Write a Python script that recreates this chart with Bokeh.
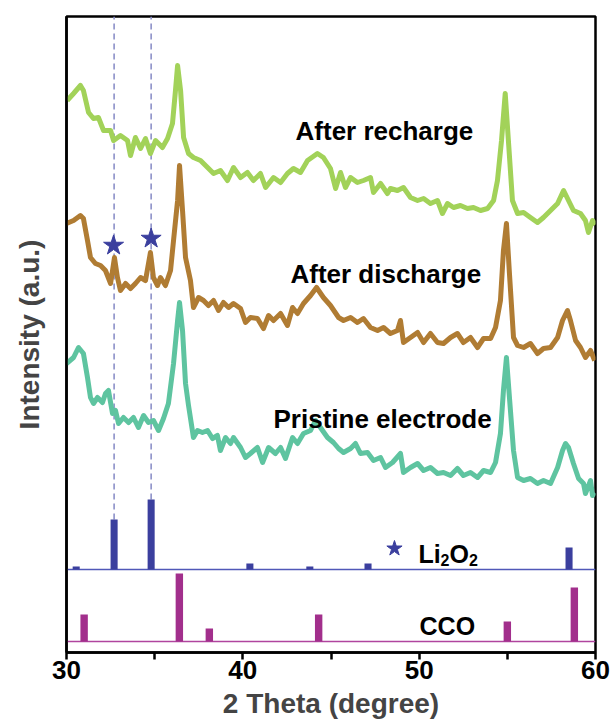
from bokeh.plotting import figure
from bokeh.models import Range1d, FixedTicker
from bokeh.core.properties import value
from bokeh.embed import file_html
from bokeh.resources import INLINE

# ---- data (2 theta in degree, intensity in a.u., offsets included) ----
recharge_2theta = [30.04, 30.40, 30.79, 30.96, 31.25, 31.53, 31.81, 32.10, 32.50, 32.67, 33.06, 33.46, 33.63, 33.91,
                   34.20, 34.48, 34.76, 35.05, 35.44, 35.73, 36.01, 36.18, 36.30, 36.47, 36.64, 36.92, 37.20, 37.60,
                   38.00, 38.34, 38.73, 39.13, 39.47, 39.87, 40.26, 40.60, 41.00, 41.29, 41.74, 42.14, 42.53, 42.87,
                   43.27, 43.67, 44.23, 44.57, 44.97, 45.26, 45.54, 45.82, 46.11, 46.50, 46.84, 47.24, 47.41, 47.81,
                   48.20, 48.37, 48.77, 49.11, 49.51, 49.91, 50.25, 50.64, 51.04, 51.32, 51.61, 51.95, 52.34, 52.74,
                   53.08, 53.48, 53.88, 54.22, 54.44, 54.67, 54.88, 55.06, 55.29, 55.58, 55.92, 56.31, 56.71, 57.05,
                   57.45, 57.85, 58.19, 58.47, 58.75, 59.15, 59.43, 59.60, 59.83, 60.0]
recharge_int = [552, 559, 567, 562, 540, 534, 535, 522, 522, 512, 517, 512, 497, 515,
                504, 514, 499, 512, 505, 514, 529, 562, 587, 562, 515, 499, 495, 492,
                485, 479, 482, 472, 485, 475, 480, 472, 479, 465, 475, 470, 479, 484,
                480, 492, 499, 495, 484, 464, 480, 465, 475, 470, 472, 475, 460, 469,
                459, 464, 462, 465, 455, 452, 454, 449, 452, 439, 449, 445, 447, 444,
                445, 442, 444, 452, 472, 512, 559, 512, 452, 439, 440, 435, 430, 435,
                442, 449, 462, 452, 442, 439, 432, 420, 432, 428]

discharge_2theta = [30.0, 30.40, 30.79, 30.96, 31.19, 31.36, 31.64, 31.93, 32.21, 32.50, 32.72, 32.89, 33.06, 33.35,
                    33.63, 33.91, 34.20, 34.48, 34.76, 34.93, 35.16, 35.33, 35.61, 35.90, 36.07, 36.30, 36.41, 36.58,
                    36.75, 37.03, 37.20, 37.49, 37.77, 38.05, 38.34, 38.62, 38.90, 39.19, 39.47, 39.87, 40.15, 40.43,
                    40.83, 41.17, 41.46, 41.74, 42.14, 42.53, 42.82, 43.10, 43.44, 43.84, 44.18, 44.57, 44.97, 45.43,
                    45.71, 46.11, 46.50, 46.84, 47.24, 47.64, 47.98, 48.37, 48.77, 48.94, 49.11, 49.51, 49.91, 50.25,
                    50.64, 51.04, 51.38, 51.78, 52.17, 52.51, 52.91, 53.31, 53.65, 54.05, 54.33, 54.61, 54.78, 54.95,
                    55.12, 55.35, 55.58, 55.92, 56.31, 56.71, 57.05, 57.45, 57.85, 58.13, 58.41, 58.58, 58.87, 59.15,
                    59.43, 59.72, 59.95]
discharge_int = [429, 432, 437, 434, 412, 395, 389, 387, 382, 369, 395, 375, 362, 369,
                 364, 369, 375, 372, 400, 375, 367, 375, 367, 382, 412, 452, 487, 442,
                 395, 372, 345, 355, 352, 347, 352, 342, 350, 345, 349, 344, 330, 335,
                 334, 324, 337, 332, 339, 327, 345, 339, 349, 357, 365, 355, 347, 335,
                 332, 335, 330, 334, 325, 322, 325, 319, 322, 332, 310, 315, 320, 310,
                 319, 310, 309, 315, 319, 310, 315, 305, 314, 314, 325, 352, 402, 429,
                 379, 315, 307, 305, 309, 299, 304, 305, 315, 332, 342, 332, 312, 305,
                 295, 302, 292]

pristine_2theta = [30.0, 30.40, 30.68, 30.96, 31.19, 31.36, 31.53, 31.76, 32.04, 32.21, 32.38, 32.61, 32.78, 32.95,
                   33.23, 33.52, 33.80, 34.08, 34.37, 34.65, 34.93, 35.22, 35.50, 35.78, 36.07, 36.30, 36.41, 36.58,
                   36.75, 36.92, 37.20, 37.43, 37.71, 38.00, 38.28, 38.56, 38.73, 39.02, 39.30, 39.47, 39.87, 40.15,
                   40.43, 40.83, 41.12, 41.46, 41.85, 42.14, 42.42, 42.82, 43.10, 43.44, 43.84, 44.12, 44.40, 44.80,
                   45.14, 45.43, 45.71, 46.11, 46.39, 46.67, 47.07, 47.41, 47.81, 48.09, 48.49, 48.94, 49.11, 49.51,
                   49.91, 50.25, 50.64, 51.04, 51.38, 51.78, 52.17, 52.51, 52.91, 53.31, 53.65, 54.05, 54.33, 54.61,
                   54.78, 54.95, 55.12, 55.35, 55.58, 55.92, 56.31, 56.71, 57.05, 57.45, 57.85, 58.13, 58.30, 58.47,
                   58.75, 59.04, 59.32, 59.43, 59.72, 59.83, 59.95]
pristine_int = [289, 295, 305, 299, 275, 255, 249, 255, 250, 259, 262, 239, 242, 229,
                235, 230, 235, 225, 237, 230, 232, 222, 234, 249, 289, 332, 350, 322,
                269, 247, 215, 222, 220, 222, 214, 217, 202, 215, 209, 215, 205, 195,
                199, 205, 190, 205, 199, 205, 194, 215, 209, 219, 222, 232, 225, 215,
                210, 204, 200, 204, 209, 199, 200, 192, 195, 185, 190, 199, 180, 185,
                189, 182, 185, 179, 180, 177, 184, 177, 180, 175, 182, 180, 190, 219,
                262, 295, 255, 202, 175, 172, 174, 169, 172, 169, 185, 202, 209, 205,
                189, 174, 169, 159, 172, 157, 160]

li2o2_2theta = [30.55, 32.7, 34.8, 40.4, 43.8, 47.1, 58.5]
li2o2_int = [3, 50, 70, 6, 3, 6, 22]
li2o2_base = 83

cco_2theta = [31.0, 36.4, 38.1, 44.3, 55.0, 58.8]
cco_int = [27, 68, 13, 27, 20, 54]
cco_base = 11

star_2theta = [32.67, 34.8]
star_int = [407, 414]

sample_labels = ["After recharge", "After discharge", "Pristine electrode"]
label_2theta = [42.99, 42.70, 41.74]
label_int = [522, 379, 234]

x_ticks = [30, 40, 50, 60]
x_minor = [35, 45, 55]

# ---- colours ----
C_RECH = "#a2d259"
C_DIS = "#b07c33"
C_PRI = "#5ec4a0"
C_LI = "#3b3f9e"
C_LI_BASE = "#5058b8"
C_CCO = "#a22f8c"
C_CCO_BASE = "#b0449e"
C_DASH = "#8c90c8"
FONT = value("Liberation Sans")

p = figure(width=611, height=721, output_backend="svg", toolbar_location=None,
           x_range=Range1d(30, 60), y_range=Range1d(0, 636),
           min_border_left=66, min_border_right=16, min_border_top=16, min_border_bottom=69)
p.background_fill_color = "white"
p.border_fill_color = "white"
p.outline_line_color = "black"
p.outline_line_width = 2.5
p.xgrid.visible = False
p.ygrid.visible = False

# dashed guide lines
li_tops = [li2o2_base + h for h in li2o2_int]
p.segment(x0=[li2o2_2theta[1], li2o2_2theta[2]], x1=[li2o2_2theta[1], li2o2_2theta[2]],
          y0=[li_tops[1], li_tops[2]], y1=[636, 636],
          line_color=C_DASH, line_width=1.6, line_dash="6 4")

# curves
p.line(recharge_2theta, recharge_int, line_color=C_RECH, line_width=5, line_join="round")
p.line(discharge_2theta, discharge_int, line_color=C_DIS, line_width=5, line_join="round")
p.line(pristine_2theta, pristine_int, line_color=C_PRI, line_width=5, line_join="round")

# reference patterns
p.segment(x0=[30], x1=[60], y0=[li2o2_base], y1=[li2o2_base], line_color=C_LI_BASE, line_width=1.6)
p.vbar(x=li2o2_2theta, width=0.4, bottom=li2o2_base, top=li_tops,
       fill_color=C_LI, line_color=None)
p.segment(x0=[30], x1=[60], y0=[cco_base], y1=[cco_base], line_color=C_CCO_BASE, line_width=1.6)
p.vbar(x=cco_2theta, width=0.42, bottom=cco_base, top=[cco_base + h for h in cco_int],
       fill_color=C_CCO, line_color=None)

# stars
p.scatter(star_2theta, star_int, marker="star", size=21, fill_color=C_LI, line_color=C_LI)
p.scatter([48.6], [104], marker="star", size=16, fill_color=C_LI, line_color=C_LI)

# labels
p.text(x=label_2theta, y=label_int, text=sample_labels, text_font=FONT, text_font_style="bold",
       text_font_size="26px", text_color="black", text_baseline="alphabetic", text_align="left")
p.text(x=[49.96, 49.96, 49.96, 49.96], y=[99, 99, 99, 99], text=["Li", "2", "O", "2"],
       x_offset=[0, 22, 31, 50.5], y_offset=[0, 6, 0, 6],
       text_font=FONT, text_font_style="bold", text_font_size=["25px", "16px", "25px", "16px"],
       text_color="black", text_baseline="alphabetic", text_align="left")
p.text(x=[50.02], y=[27], text=["CCO"], text_font=FONT, text_font_style="bold",
       text_font_size="25px", text_color="black", text_baseline="alphabetic", text_align="left")

# axes
ax = p.xaxis[0]
ax.ticker = FixedTicker(ticks=x_ticks, minor_ticks=x_minor)
ax.axis_label = "2 Theta (degree)"
ax.axis_label_text_font = "Liberation Sans"
ax.axis_label_text_font_style = "bold"
ax.axis_label_text_font_size = "28px"
ax.axis_label_standoff = 6
ax.major_label_text_font = "Liberation Sans"
ax.major_label_text_font_style = "bold"
ax.major_label_text_font_size = "26px"
ax.major_label_text_color = "black"
ax.major_label_standoff = 1
ax.axis_line_width = 2.5
ax.axis_line_color = "black"
ax.major_tick_line_width = 2.5
ax.minor_tick_line_width = 2.5
ax.major_tick_in = 0
ax.major_tick_out = 7
ax.minor_tick_in = 0
ax.minor_tick_out = 7

ay = p.yaxis[0]
ay.ticker = FixedTicker(ticks=[])
ay.axis_label = "Intensity (a.u.)"
ay.axis_label_text_font = "Liberation Sans"
ay.axis_label_text_font_style = "bold"
ay.axis_label_text_font_size = "28px"
ay.axis_label_standoff = 22
ay.axis_line_width = 2.5
ay.axis_line_color = "black"
ay.major_tick_line_color = None
ay.minor_tick_line_color = None
ay.major_label_text_font_size = "0px"

open("out.html", "w").write(file_html(p, INLINE))
